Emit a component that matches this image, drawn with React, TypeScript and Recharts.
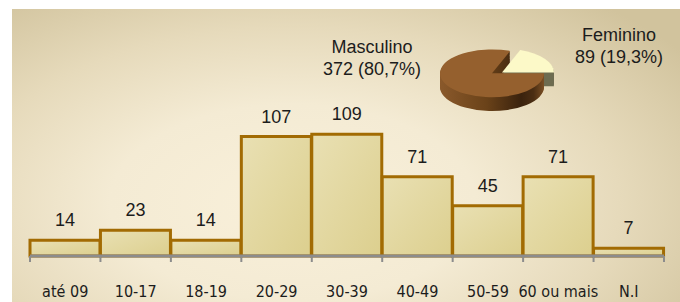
import React from 'react';
import { BarChart, Bar, XAxis, YAxis, LabelList, PieChart, Pie, Cell } from 'recharts';

// faixa etária
const faixas = ['até 09', '10-17', '18-19', '20-29', '30-39', '40-49', '50-59', '60 ou mais', 'N.I'];
const quantidades = [14, 23, 14, 107, 109, 71, 45, 71, 7];

// sexo
const sexos = ['Masculino', 'Feminino'];
const sexoValores = [372, 89];

const ARIAL = "'Liberation Sans', Arial, sans-serif";
const NARROW = "'Liberation Sans Narrow', 'Arial Narrow', 'DejaVu Sans Condensed', sans-serif";

const barData = faixas.map((faixa, i) => ({ faixa, valor: quantidades[i] }));

const totalSexo = sexoValores.reduce((s, v) => s + v, 0);
const pct = (v: number) => ((v / totalSexo) * 100).toFixed(1).replace('.', ',');

// feminino first so its slice starts at 0deg (right) and opens upward
const pieData = [
    { name: sexos[1], value: sexoValores[1] },
    { name: sexos[0], value: sexoValores[0] },
];

const PIE_R = 52;
const PIE_CX = 60;
const PIE_CY = 55;
const DEPTH = 30;
const EXPLODE_X = 10;
const EXPLODE_Y = -2;

const depthSteps: number[] = [];
for (let d = DEPTH; d > 0; d -= 2) depthSteps.push(d);

const FaixaTick = (props: any) => {
    const { x, y, payload, index } = props;
    const half = payload && payload.offset ? payload.offset : 634 / 9 / 2;
    const axisY = y - 8;
    const isLast = index === faixas.length - 1;
    return (
        <g>
            <line x1={x - half} x2={x - half} y1={axisY} y2={axisY + 6} stroke="#8c8c8c" strokeWidth={2} />
            {isLast && <line x1={x + half} x2={x + half} y1={axisY} y2={axisY + 6} stroke="#8c8c8c" strokeWidth={2} />}
            <text x={x} y={y + 33} textAnchor="middle" fill="#1c1c1c" fontSize={16} fontFamily={NARROW}>
                {payload.value}
            </text>
        </g>
    );
};

const SexoPie = () => (
    <PieChart width={140} height={140} margin={{ top: 0, right: 0, bottom: 0, left: 0 }}>
        <defs>
            <linearGradient id="ladoMasc" x1="0" y1="0" x2="1" y2="0">
                <stop offset="0%" stopColor="#8a592b" />
                <stop offset="45%" stopColor="#6a4219" />
                <stop offset="78%" stopColor="#3a220d" />
                <stop offset="90%" stopColor="#4b2e13" />
                <stop offset="100%" stopColor="#7b4f24" />
            </linearGradient>
        </defs>
        {depthSteps.map(d => (
            <Pie
                key={'f' + d}
                data={pieData}
                dataKey="value"
                cx={PIE_CX + EXPLODE_X}
                cy={PIE_CY + EXPLODE_Y + d}
                outerRadius={PIE_R}
                startAngle={0}
                endAngle={360}
                stroke="none"
                isAnimationActive={false}
            >
                <Cell fill="#6e6c51" />
                <Cell fill="none" />
            </Pie>
        ))}
        {depthSteps.map(d => (
            <Pie
                key={'m' + d}
                data={pieData}
                dataKey="value"
                cx={PIE_CX}
                cy={PIE_CY + d}
                outerRadius={PIE_R}
                startAngle={0}
                endAngle={360}
                stroke="none"
                isAnimationActive={false}
            >
                <Cell fill="none" />
                <Cell fill="url(#ladoMasc)" />
            </Pie>
        ))}
        <Pie
            data={pieData}
            dataKey="value"
            cx={PIE_CX + EXPLODE_X}
            cy={PIE_CY + EXPLODE_Y}
            outerRadius={PIE_R}
            startAngle={0}
            endAngle={360}
            stroke="none"
            isAnimationActive={false}
        >
            <Cell fill="#fcf9c8" />
            <Cell fill="none" />
        </Pie>
        <Pie
            data={pieData}
            dataKey="value"
            cx={PIE_CX}
            cy={PIE_CY}
            outerRadius={PIE_R}
            startAngle={0}
            endAngle={360}
            stroke="none"
            isAnimationActive={false}
        >
            <Cell fill="none" />
            <Cell fill="#95602e" />
        </Pie>
    </PieChart>
);

export default function App() {
    return (
        <div style={{ position: 'absolute', left: 0, top: 0, width: 680, height: 302, background: '#fff', overflow: 'hidden' }}>
            <div
                style={{
                    position: 'absolute',
                    left: 12,
                    top: 9,
                    width: 668,
                    height: 293,
                    background:
                        'radial-gradient(ellipse 72% 88% at 42% 66%, #f9f0da 0%, #f4ebd4 38%, #e6dabb 68%, #d1c39d 100%)',
                }}
            />
            <div style={{ position: 'absolute', left: 0, top: 0 }}>
                <BarChart
                    width={680}
                    height={302}
                    data={barData}
                    margin={{ top: 122, right: 16, bottom: 16, left: 30 }}
                    barCategoryGap={0}
                >
                    <defs>
                        <linearGradient id="barraFill" x1="0" y1="0" x2="1" y2="1">
                            <stop offset="0%" stopColor="#e9e0b3" />
                            <stop offset="100%" stopColor="#dccf8e" />
                        </linearGradient>
                    </defs>
                    <YAxis hide domain={[0, 120]} />
                    <Bar dataKey="valor" fill="url(#barraFill)" stroke="#a26b03" strokeWidth={3} isAnimationActive={false}>
                        <LabelList dataKey="valor" position="top" offset={14} fill="#1c1c1c" fontSize={18} fontFamily={ARIAL} />
                    </Bar>
                    <XAxis
                        dataKey="faixa"
                        height={30}
                        interval={0}
                        axisLine={{ stroke: '#8c8c8c', strokeWidth: 3 }}
                        tickLine={false}
                        tick={<FaixaTick />}
                    />
                </BarChart>
            </div>
            <div style={{ position: 'absolute', left: 432, top: 48, transform: 'scaleY(0.46)', transformOrigin: 'top left' }}>
                <SexoPie />
            </div>
            <div
                style={{
                    position: 'absolute',
                    left: 312,
                    top: 36,
                    width: 120,
                    textAlign: 'center',
                    fontFamily: ARIAL,
                    fontSize: 18,
                    lineHeight: '22px',
                    color: '#1c1c1c',
                }}
            >
                <div>{sexos[0]}</div>
                <div>{`${sexoValores[0]} (${pct(sexoValores[0])}%)`}</div>
            </div>
            <div
                style={{
                    position: 'absolute',
                    left: 559,
                    top: 24,
                    width: 120,
                    textAlign: 'center',
                    fontFamily: ARIAL,
                    fontSize: 18,
                    lineHeight: '22px',
                    color: '#1c1c1c',
                }}
            >
                <div>{sexos[1]}</div>
                <div>{`${sexoValores[1]} (${pct(sexoValores[1])}%)`}</div>
            </div>
        </div>
    );
}
